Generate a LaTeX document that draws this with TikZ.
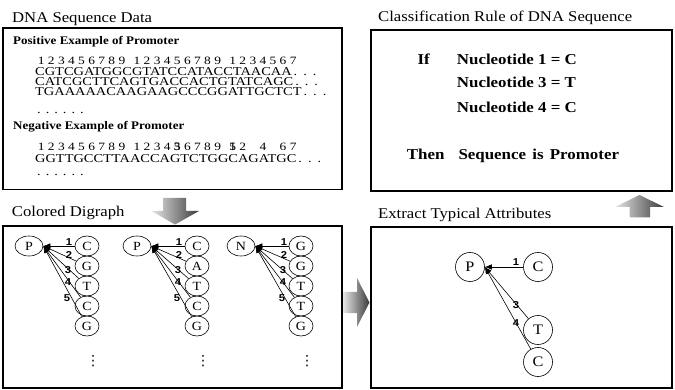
\documentclass[tikz,border=0pt]{standalone}
\usepackage{fontspec}
\setmainfont{Liberation Serif}[FakeStretch=1.12]
\newfontfamily\seqfont{Liberation Serif}[FakeStretch=1.2]
\newfontfamily\labfont{Liberation Sans}[FakeStretch=1.12]
\newfontfamily\symfont{DejaVu Sans}
\usepackage{tikz}
\usetikzlibrary{shapes.geometric,arrows.meta,positioning}
\definecolor{arrowlight}{HTML}{E6E6E6}
\definecolor{arrowdark}{HTML}{3A3A3A}

\newcommand{\fsz}[1]{\fontsize{#1}{#1}\selectfont}
\newcommand{\seqdots}{\hspace{2pt}.\hspace{6pt}.\hspace{6pt}.}
\newcommand{\rowdots}{.\hspace{5pt}.\hspace{5pt}.\hspace{5pt}.\hspace{5pt}.\hspace{5pt}.}
\newcommand{\grpgap}{\hspace{5pt}}

\tikzset{
  panel/.style={draw, line width=1.8pt},
  title/.style={anchor=base west, inner sep=0pt, font=\fsz{14.9}},
  head/.style={anchor=base west, inner sep=0pt, font=\bfseries\fsz{11.6}},
  nums/.style={anchor=base west, inner sep=0pt, font=\seqfont\fsz{11.2}},
  seq/.style={anchor=base west, inner sep=0pt, font=\seqfont\fsz{12}},
  rule/.style={anchor=base west, inner sep=0pt, font=\bfseries\fsz{15.1}},
  vtx/.style={ellipse, draw, line width=0.6pt, inner sep=0pt, minimum width=24pt, minimum height=20pt, font=\fsz{12.5}},
  root/.style={vtx, minimum width=28pt},
  cvtx/.style={circle, draw, line width=0.6pt, inner sep=0pt, minimum size=29pt, font=\fsz{14.5}},
  edge/.style={-{Latex[length=7pt,width=5.5pt]}, line width=0.6pt},
  elab/.style={inner sep=0pt, font=\labfont\bfseries\fsz{10}},
  more/.style={inner sep=0pt, font=\symfont\fsz{14}},
  flow/.style={left color=arrowlight, right color=arrowdark, draw=none}
}

\begin{document}
\begin{tikzpicture}[x=1pt, y=-1pt]
  \useasboundingbox (0,0) rectangle (675,390);

  % Panel 1: DNA Sequence Data (x: 3 to 342)
  \node[title] (ttlseq) at (12,22.7) {DNA Sequence Data};
  \draw[panel] (3,28) rectangle (342,189.5);
  \node[head] (poshead) at (13,44.3) {Positive Example of Promoter};
  \node[nums] (posnum) at (37.7,65) {1 2 3 4 5 6 7 8 9\grpgap{} 1 2 3 4 5 6 7 8 9\grpgap{} 1 2 3 4 5 6 7};
  \node[seq] (pos1) at (35,76) {CGTCGATGGCGTATCCATACCTAACAA\seqdots};
  \node[seq] (pos2) at (35,86) {CATCGCTTCAGTGACCACTGTATCAGC\seqdots};
  \node[seq] (pos3) at (35,96) {TGAAAAACAAGAAGCCCGGATTGCTCT\seqdots};
  \node[seq] (posmore) at (37,114) {\rowdots};
  \node[head] (neghead) at (13,129.3) {Negative Example of Promoter};
  \node[nums] (negnum) at (37.7,150.6) {1 2 3 4 5 6 7 8 9\grpgap{} 1 2 3 4 \rlap{3}5 6 7 8 9\grpgap{} \rlap{5}1 2 \phantom{3} 4 \phantom{5} 6 7};
  \node[seq] (neg1) at (35,163) {GGTTGCCTTAACCAGTCTGGCAGATGC\seqdots};
  \node[seq] (negmore) at (37,176) {\rowdots};

  % Panel 2: Classification Rule (x: 371 to 672)
  \node[title] (ttlrule) at (378,21.7) {Classification Rule of DNA Sequence};
  \draw[panel] (370.7,30) rectangle (672,191);
  \node[rule] (kwif) at (417.3,65) {If};
  \node[rule] (cond1) at (456.7,65) {Nucleotide 1 = C};
  \node[rule] (cond2) at (456.7,88) {Nucleotide 3 = T};
  \node[rule] (cond3) at (456.7,112.7) {Nucleotide 4 = C};
  \node[rule] (kwthen) at (406.7,160) {Then};
  \node[rule] (concl) at (458.3,160) {Sequence\hspace{2pt} is\hspace{2pt} Promoter};

  % Panel 3: Colored Digraph (x: 3 to 342)
  \node[title] (ttlgraph) at (11.7,216.6) {Colored Digraph};
  \draw[panel] (3,226) rectangle (342,388);

  % first positive sequence
  \node[root] (pa) at (29,246) {P};
  \node[vtx] (a1) at (87,246) {C};
  \node[vtx] (a2) at (87,266) {G};
  \node[vtx] (a3) at (87,286) {T};
  \node[vtx] (a4) at (87,306) {C};
  \node[vtx] (a5) at (87,326) {G};
  \node[more] (amore) at (93,361) {⋮};
  \foreach \i in {1,...,5} \draw[edge] (a\i) -- (pa.east);
  \node[elab] (la1) at (69,242) {1};
  \node[elab] (la2) at (69,255) {2};
  \node[elab] (la3) at (68,270) {3};
  \node[elab] (la4) at (68,282) {4};
  \node[elab] (la5) at (67,298) {5};

  % second positive sequence
  \node[root] (pb) at (137,246) {P};
  \node[vtx] (b1) at (197,246) {C};
  \node[vtx] (b2) at (197,266) {A};
  \node[vtx] (b3) at (197,286) {T};
  \node[vtx] (b4) at (197,306) {C};
  \node[vtx] (b5) at (197,326) {G};
  \node[more] (bmore) at (203,361) {⋮};
  \foreach \i in {1,...,5} \draw[edge] (b\i) -- (pb.east);
  \node[elab] (lb1) at (179,242) {1};
  \node[elab] (lb2) at (179,255) {2};
  \node[elab] (lb3) at (178,270) {3};
  \node[elab] (lb4) at (178,282) {4};
  \node[elab] (lb5) at (177,298) {5};

  % negative sequence
  \node[root] (pc) at (241,246) {N};
  \node[vtx] (c1) at (301,246) {G};
  \node[vtx] (c2) at (301,266) {G};
  \node[vtx] (c3) at (301,286) {T};
  \node[vtx] (c4) at (301,306) {T};
  \node[vtx] (c5) at (301,326) {G};
  \node[more] (cmore) at (307,361) {⋮};
  \foreach \i in {1,...,5} \draw[edge] (c\i) -- (pc.east);
  \node[elab] (lc1) at (284,242) {1};
  \node[elab] (lc2) at (284,255) {2};
  \node[elab] (lc3) at (283,270) {3};
  \node[elab] (lc4) at (283,282) {4};
  \node[elab] (lc5) at (282,298) {5};

  % Panel 4: Extract Typical Attributes (x: 371 to 672)
  \node[title] (ttlattr) at (378,219) {Extract Typical Attributes};
  \draw[panel] (370.7,226.7) rectangle (672,388);
  \node[cvtx] (pr) at (470,267) {P};
  \node[cvtx] (r1) at (538,267) {C};
  \node[cvtx] (r3) at (538,330) {T};
  \node[cvtx] (r4) at (538,362) {C};
  \draw[edge] (r1) -- (pr.east);
  \draw[edge] (r3) -- (pr.east);
  \draw[edge] (r4) -- (pr.east);
  \node[elab] (lr1) at (516,262) {1};
  \node[elab] (lr3) at (516,305) {3};
  \node[elab] (lr4) at (516,323) {4};

  % Flow arrows between panels
  \path[flow] (163,198) -- (186,198) -- (186,211) -- (199,211) -- (175,224.5)
    -- (151.5,211) -- (163,211) -- cycle;
  \path[flow] (343,292) -- (357,292) -- (357,278) -- (369.5,302.5) -- (357,327)
    -- (357,313) -- (343,313) -- cycle;
  \path[flow] (629.5,217.5) -- (629.5,207) -- (615,207) -- (639.5,195) -- (664,207)
    -- (650,207) -- (650,217.5) -- cycle;
\end{tikzpicture}
\end{document}
